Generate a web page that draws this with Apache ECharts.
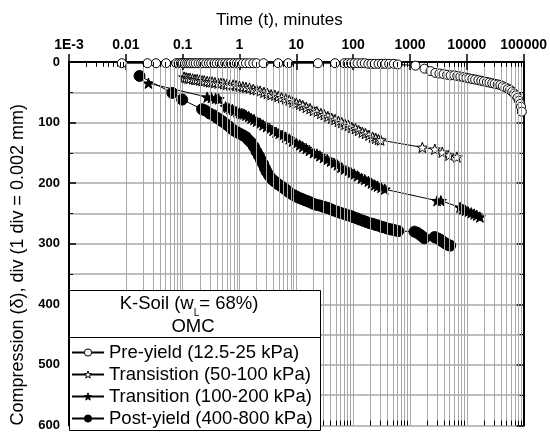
<!DOCTYPE html>
<html><head><meta charset="utf-8">
<script src="https://cdn.jsdelivr.net/npm/echarts@6/dist/echarts.min.js"></script>
<style>html,body{margin:0;padding:0;background:#fff}#c{width:550px;height:432px}</style>
</head><body><div id="c"></div>
<script>
// ---------- DATA ----------
const tickLabels = ['1E-3','0.01','0.1','1','10','100','1000','10000','100000'];
const seriesNames = ['Pre-yield (12.5-25 kPa)','Transistion (50-100 kPa)','Transition (100-200 kPa)','Post-yield (400-800 kPa)'];

const preT = [0.0085,0.024,0.034,0.051,0.077,0.085,0.093,0.1,0.11,0.12,0.13,0.14,0.155,0.17,0.19,0.21,0.23,0.26,0.29,0.32,0.36,0.4,0.45,0.5,0.56,0.63,0.7,0.8,0.9,1.0,1.15,1.3,1.5,1.75,2.0,2.65,4.8,7.2,24,48,70,80,92,105,120,140,160,185,210,240,280,320,370,430,520,610,1250,1800,2300,2800,3300,3900,4500,5200,6000,6800,7700,8700,9800,11000,12500,14000,16000,18000,20000,22500,25000,28000,31000,35000,39000,43000,48000,53000,58000,63000,68000,73000,78000,83000,87000,90000,93000];
const preV = [2,2,2,2,2,2,2,2,2,2,2,2,2,2,2,2,2,2,2,2,2,2,2,2,2,2,2,2,2,2,2,2,2,2,2,2,2,2,2,2,2,2,2,2,2,2,2,3,3,3,3,3,3,3,3,4,6,11,15,18,19,20,21,22,22,23,24,25,26,27,28,29,30,31,32,33,34,35,36,37,38,40,42,44,46,49,52,55,59,64,69,74,82];

const tr1T = [0.106,0.115,0.125,0.135,0.15,0.165,0.18,0.2,0.22,0.24,0.27,0.3,0.33,0.37,0.42,0.47,0.53,0.6,0.68,0.77,0.87,1.0,1.15,1.3,1.5,1.75,2.0,2.3,2.7,3.1,3.6,4.2,4.8,5.5,6.5,7.5,8.7,10,11.5,13,15,17.5,20,23,27,31,36,42,48,55,63,72,83,95,110,125,145,165,190,220,250,280,305,1650,2740,3700,4850,6700];
const tr1V = [25,26,27,27,28,29,29,30,31,31,32,33,33,34,35,35,36,37,38,38,39,40,41,42,43,45,46,48,50,52,54,55,57,59,61,63,66,68,70,72,75,77,80,82,85,87,90,93,95,98,100,103,105,108,110,113,116,118,121,124,126,128,129,141,144,149,154,157];

const tr2T = [0.025,0.27,0.32,0.38,0.43,0.57,0.62,0.68,0.75,0.82,0.9,1.0,1.1,1.2,1.3,1.45,1.6,1.8,2.0,2.3,2.6,3.0,3.4,3.9,4.4,5.0,5.7,6.5,7.5,8.6,10,11.5,13,15,17,20,23,26,30,35,40,46,53,61,70,80,92,105,120,140,160,185,210,240,270,310,360,3000,3500,7600,8500,9500,10500,12000,13500,15000,17000];
const tr2V = [35,58,59,60,61,74,75,77,78,80,82,84,85,86,88,90,93,95,98,101,104,107,110,113,116,118,121,124,127,131,134,137,140,143,146,150,152,155,158,161,164,167,170,174,177,180,183,185,188,192,194,197,200,203,205,207,210,229,229,240,243,245,247,249,251,253,256];

const postT = [0.0174,0.0657,0.098,0.22,0.25,0.3,0.35,0.4,0.45,0.5,0.57,0.65,0.72,0.8,0.9,1.0,1.15,1.3,1.45,1.6,1.8,2.0,2.2,2.4,2.6,2.8,3.0,3.3,3.6,4.0,4.4,4.8,5.4,6.0,6.6,7.2,8.0,9.0,10,11,12.5,14,16,18,20,23,26,30,33,36,40,45,52,60,70,80,90,100,115,130,150,170,195,220,250,280,315,350,400,450,500,550,620,1200,1350,1500,1650,1800,2700,2900,3200,3500,3700,4000,4300,4700,5100];
const postV = [23,51,62,78,80,85,88,92,95,98,102,106,110,113,116,118,121,124,129,133,140,148,155,162,168,175,181,187,192,196,199,202,205,208,211,214,217,220,222,224,226,228,230,232,234,236,237,239,240,241,243,245,247,249,251,253,254,256,258,260,262,264,266,267,269,270,272,273,275,276,277,278,279,280,282,285,288,291,289,290,292,294,296,298,300,302,303];

// ---------- CHART ----------
const FONT = '"Liberation Sans", Arial, Helvetica, sans-serif';
const STAR = 'path://M50 0 L61.76 33.82 L97.55 34.55 L69.02 56.18 L79.39 90.45 L50 70 L20.61 90.45 L30.98 56.18 L2.45 34.55 L38.24 33.82 Z';
const zip = (t, v) => t.map((x, i) => [x, v[i]]);
const GRID = '#a8a8a8';
const fills = ['#fff', '#fff', '#000', '#000'];

const minorVals = [];
for (let k = -3; k < 5; k++) for (let m = 2; m < 10; m++) minorVals.push(m * Math.pow(10, k));

function mk(name, t, v, symbol, size, fill) {
  return {
    name, type: 'line', data: zip(t, v), symbol, symbolSize: size, symbolKeepAspect: true,
    showSymbol: true, showAllSymbol: true, animation: false, z: 3,
    lineStyle: { color: '#000', width: 1 },
    itemStyle: { color: fill, borderColor: '#000', borderWidth: 1 },
    emphasis: { disabled: true }
  };
}

const chart = echarts.init(document.getElementById('c'), null, { renderer: 'canvas' });
const common = { fontFamily: FONT, color: '#000' };

const option = {
  animation: false,
  backgroundColor: '#fff',
  grid: { left: 69, right: 23, top: 62, bottom: 4, containLabel: false },
  xAxis: [
    {
      type: 'log', logBase: 10, min: 0.001, max: 100000, splitNumber: 8, position: 'top',
      name: 'Time (t), minutes', nameLocation: 'middle', nameGap: 33,
      nameTextStyle: Object.assign({ fontSize: 17, padding: [0, 34, 0, 0] }, common),
      axisLine: { show: true, lineStyle: { color: '#000', width: 2 } },
      axisTick: { show: true, inside: true, length: 8, lineStyle: { color: '#000', width: 1.5 } },
      splitLine: { show: true, lineStyle: { color: GRID, width: 1 } },
      axisLabel: Object.assign({ fontSize: 14, fontWeight: 'bold', margin: 10,
        formatter: v => tickLabels[Math.round(Math.log10(v)) + 3] }, common)
    },
    {
      type: 'log', logBase: 10, min: 0.001, max: 100000, splitNumber: 8, position: 'bottom',
      axisLine: { show: true, lineStyle: { color: '#000', width: 2 } },
      axisTick: { show: true, inside: true, length: 8, lineStyle: { color: '#000', width: 1.5 } },
      splitLine: { show: false }, axisLabel: { show: false }
    }
  ],
  yAxis: [
    {
      type: 'value', inverse: true, min: 0, max: 600, interval: 100, position: 'left',
      name: 'Compression (δ), div (1 div = 0.002 mm)', nameLocation: 'middle', nameGap: 38,
      nameTextStyle: Object.assign({ fontSize: 18, padding: [0, 42, 0, 0] }, common),
      axisLine: { show: true, lineStyle: { color: '#000', width: 2 } },
      axisTick: { show: true, inside: true, length: 7, lineStyle: { color: '#000', width: 1.5 } },
      minorTick: { show: true, splitNumber: 2, length: 4, lineStyle: { color: '#000', width: 1 } },
      splitLine: { show: true, lineStyle: { color: GRID, width: 1.5 } },
      minorSplitLine: { show: true, lineStyle: { color: GRID, width: 1.5 } },
      axisLabel: Object.assign({ fontSize: 13, fontWeight: 'bold', margin: 9 }, common)
    },
    {
      type: 'value', inverse: true, min: 0, max: 600, interval: 100, position: 'right',
      axisLine: { show: true, lineStyle: { color: '#000', width: 2 } },
      axisTick: { show: true, inside: true, length: 7, lineStyle: { color: '#000', width: 1.5 } },
      minorTick: { show: true, splitNumber: 2, length: 4, lineStyle: { color: '#000', width: 1 } },
      splitLine: { show: false }, axisLabel: { show: false }
    }
  ],
  legend: {
    data: seriesNames.map((n, i) => ({ name: n, itemStyle: { color: fills[i], borderColor: '#000', borderWidth: 1 } })),
    orient: 'vertical', left: 71, top: 343, padding: 0, height: 88,
    itemWidth: 32, itemHeight: 9, itemGap: 3,
    selectedMode: false, z: 30,
    textStyle: Object.assign({ fontSize: 18.5, lineHeight: 18 }, common)
  },
  graphic: {
    z: 20,
    elements: [
      { type: 'rect', z: 20, shape: { x: 69.5, y: 290.5, width: 251, height: 140 },
        style: { fill: '#fff', stroke: '#000', lineWidth: 1 } },
      { type: 'line', z: 21, shape: { x1: 69, y1: 337.5, x2: 320, y2: 337.5 },
        style: { stroke: '#000', lineWidth: 1 } },
      { type: 'text', z: 21, x: 189, y: 294,
        style: { text: '{a|K-Soil (w}{s|L}{a|= 68%)}', align: 'center', verticalAlign: 'top',
          rich: { a: { fontSize: 18.5, fontFamily: FONT, fill: '#000', lineHeight: 20, verticalAlign: 'top' },
                  s: { fontSize: 10, fontFamily: FONT, fill: '#000', lineHeight: 10, padding: [14, 0, 0, 0], verticalAlign: 'top' } } } },
      { type: 'text', z: 21, x: 193, y: 317,
        style: { text: 'OMC', align: 'center', verticalAlign: 'top', fontSize: 18.5, fontFamily: FONT, fill: '#000' } }
    ]
  },
  series: [
    {
      type: 'line', data: [[0.001, 0]], symbol: 'none', lineStyle: { opacity: 0 }, silent: true, z: 1,
      markLine: { silent: true, symbol: ['none', 'none'], animation: false, label: { show: false },
        lineStyle: { color: GRID, width: 1, type: 'solid' }, emphasis: { disabled: true },
        data: minorVals.map(v => ({ xAxis: v })) }
    },
    {
      type: 'line', data: [[0.001, 0]], symbol: 'none', lineStyle: { opacity: 0 }, silent: true, z: 2,
      markLine: { silent: true, symbol: ['none', 'none'], animation: false, label: { show: false },
        lineStyle: { color: '#000', width: 1, type: 'solid' }, emphasis: { disabled: true },
        data: minorVals.map(v => [{ coord: [v, 0] }, { coord: [v, 8] }])
          .concat(minorVals.map(v => [{ coord: [v, 600] }, { coord: [v, 592] }])) }
    },
    mk(seriesNames[0], preT, preV, 'circle', 9, fills[0]),
    mk(seriesNames[1], tr1T, tr1V, STAR, 11, fills[1]),
    mk(seriesNames[2], tr2T, tr2V, STAR, 11, fills[2]),
    mk(seriesNames[3], postT, postV, 'circle', 11, fills[3])
  ]
};
chart.setOption(option);
</script>
</body></html>
